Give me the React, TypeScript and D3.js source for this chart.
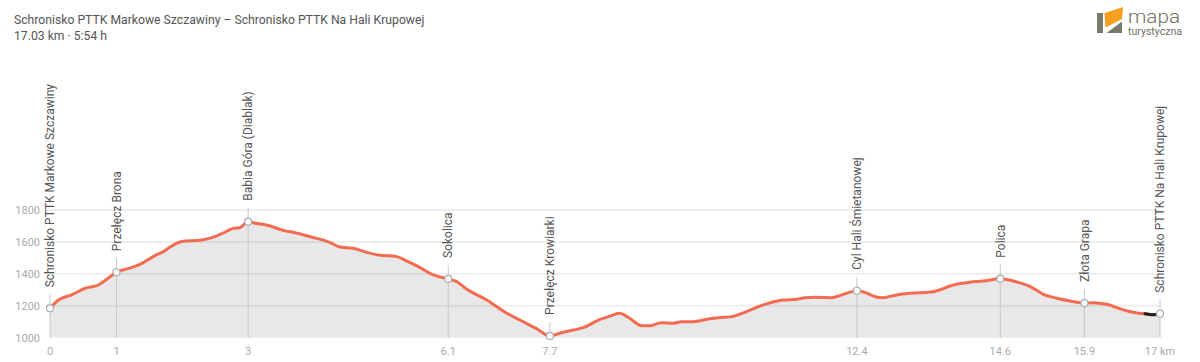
import React from "react";
import * as d3 from "d3";

// elevation profile (km, m a.s.l.)
const profileKm = [
  0, 0.13, 0.33, 0.54, 0.74, 0.89, 1.02, 1.25, 1.41, 1.61, 1.74, 1.87, 2.02, 2.33, 2.53, 2.68, 2.81, 2.91,
  3.04, 3.15, 3.32, 3.61, 3.76, 4.02, 4.22, 4.3, 4.45, 4.65, 4.86, 5.04, 5.32, 5.47, 5.68, 5.88, 6.11, 6.24,
  6.39, 6.7, 7.01, 7.21, 7.47, 7.67, 7.82, 8.03, 8.18, 8.44, 8.57, 8.74, 8.87, 9.08, 9.21, 9.38, 9.56, 9.69,
  9.85, 10.1, 10.25, 10.46, 10.66, 10.97, 11.25, 11.46, 11.58, 11.74, 11.99, 12.15, 12.38, 12.5, 12.66,
  12.78, 12.99, 13.19, 13.55, 13.86, 14.11, 14.32, 14.58, 14.78, 15.04, 15.24, 15.45, 15.65, 15.87, 16.01,
  16.21, 16.47, 16.7, 16.8, 16.93, 17.03,
];
const profileElev = [
  1184, 1236, 1268, 1310, 1330, 1372, 1410, 1439, 1466, 1514, 1539, 1575, 1602, 1612, 1633, 1660, 1685, 1689,
  1727, 1717, 1706, 1669, 1658, 1629, 1608, 1595, 1568, 1560, 1535, 1518, 1508, 1481, 1439, 1393, 1368, 1351,
  1305, 1236, 1153, 1111, 1055, 1011, 1028, 1048, 1063, 1115, 1132, 1153, 1128, 1075, 1075, 1094, 1090, 1100,
  1100, 1117, 1125, 1132, 1159, 1209, 1236, 1241, 1251, 1253, 1251, 1268, 1294, 1284, 1257,
  1251, 1268, 1278, 1288, 1330, 1347, 1355, 1370, 1355, 1320, 1272, 1247, 1230, 1217, 1219,
  1209, 1174, 1153, 1150, 1144, 1150,
];

// waypoints
const wpNames = [
  "Schronisko PTTK Markowe Szczawiny",
  "Przełęcz Brona",
  "Babia Góra (Diablak)",
  "Sokolica",
  "Przełęcz Krowiarki",
  "Cyl Hali Śmietanowej",
  "Polica",
  "Złota Grapa",
  "Schronisko PTTK Na Hali Krupowej",
];
const wpKm = [0, 1.02, 3.04, 6.11, 7.67, 12.38, 14.58, 15.87, 17.03];
const wpElev = [1184, 1410, 1727, 1368, 1011, 1294, 1370, 1217, 1150];
const tickLabels = ["0", "1", "3", "6.1", "7.7", "12.4", "14.6", "15.9", "17 km"];

const yTicks = [1000, 1200, 1400, 1600, 1800];
const blackFromKm = 16.8;

const title = "Schronisko PTTK Markowe Szczawiny – Schronisko PTTK Na Hali Krupowej";
const subtitle = "17.03 km · 5:54 h";

const W = 1200;
const H = 362;

export default function App() {
  const x = d3.scaleLinear().domain([0, 17.03]).range([50, 1160]);
  const y = d3.scaleLinear().domain([1000, 1800]).range([337.7, 210]);

  const pts = profileKm.map((k, i) => ({ k, e: profileElev[i] }));
  const line = d3
    .line<{ k: number; e: number }>()
    .x((d) => x(d.k))
    .y((d) => y(d.e))
    .curve(d3.curveMonotoneX);
  const area = d3
    .area<{ k: number; e: number }>()
    .x((d) => x(d.k))
    .y0(y(1000))
    .y1((d) => y(d.e))
    .curve(d3.curveMonotoneX);
  const tail = pts.filter((d) => d.k >= blackFromKm);

  const font = "Roboto, sans-serif";

  return (
    <svg
      width={W}
      height={H}
      style={{ position: "absolute", left: 0, top: 0, background: "#fff" }}
      fontFamily={font}
    >
      <text x={14} y={24} fontSize={12.2} fill="#555">
        {title}
      </text>
      <text x={14} y={39.5} fontSize={12.2} fill="#555">
        {subtitle}
      </text>

      {/* logo */}
      <g>
        <rect x={1097} y={13} width={6} height={20} fill="#7a7a6c" />
        <polygon points="1104.5,13 1123,7 1122,19 1105.5,27.5" fill="#f5a01e" />
        <polygon points="1106.5,33 1122,21.5 1122,33" fill="#7a7a6c" />
        <text x={1128} y={22.7} fontSize={19} fontWeight={300} fill="#6f6f62" textLength={52} lengthAdjust="spacingAndGlyphs">
          mapa
        </text>
        <text x={1128} y={34.5} fontSize={10} fill="#6f6f62" textLength={54} lengthAdjust="spacingAndGlyphs">
          turystyczna
        </text>
      </g>

      {/* grid */}
      {yTicks.slice(1).map((t) => (
        <line key={t} x1={45} x2={1160} y1={y(t)} y2={y(t)} stroke="#eeeeee" strokeWidth={2} />
      ))}
      {yTicks.map((t) => (
        <text key={t} x={40} y={y(t)} dy="0.35em" textAnchor="end" fontSize={11} fill="#aaa">
          {t}
        </text>
      ))}

      <path d={area(pts) || ""} fill="#000" fillOpacity={0.09} />

      {/* waypoint guides */}
      {wpKm.map((k, i) => (
        <line
          key={i}
          x1={x(k)}
          x2={x(k)}
          y1={y(wpElev[i]) - 14}
          y2={y(1000)}
          stroke="#c8c8c8"
          strokeWidth={1}
        />
      ))}

      <path d={line(pts) || ""} fill="none" stroke="#f36b50" strokeWidth={3} strokeLinejoin="round" strokeLinecap="round" />
      <path d={line(tail) || ""} fill="none" stroke="#222" strokeWidth={3} strokeLinecap="round" />

      {wpKm.map((k, i) => (
        <g key={i}>
          <circle cx={x(k)} cy={y(wpElev[i])} r={3.5} fill="#fff" stroke="#aaa" strokeWidth={1.2} />
          <text
            transform={`translate(${x(k)},${y(wpElev[i]) - 21}) rotate(-90)`}
            dy="0.35em"
            fontSize={12}
            fill="#555"
          >
            {wpNames[i]}
          </text>
          <text x={x(k)} y={355} textAnchor="middle" fontSize={11} fill="#aaa">
            {tickLabels[i]}
          </text>
        </g>
      ))}
    </svg>
  );
}
